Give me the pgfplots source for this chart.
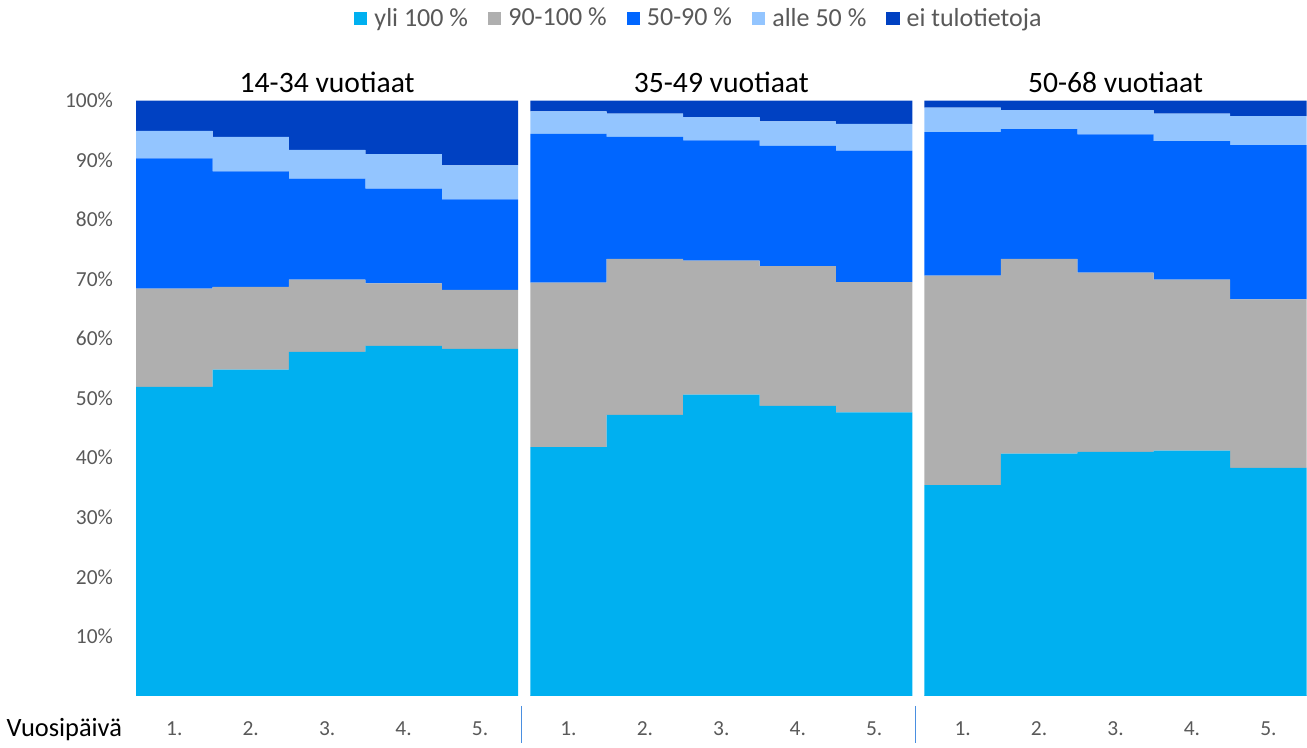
\documentclass[border=0pt]{standalone}
\usepackage{fontspec}
\setmainfont{Carlito}
\usepackage{pgfplots}
\usepackage{pgfplotstable}
\usepgfplotslibrary{groupplots}
\pgfplotsset{compat=1.18}

\definecolor{cyanA}{HTML}{00B0F0}
\definecolor{greyA}{HTML}{AFAFAF}
\definecolor{blueA}{HTML}{0066FF}
\definecolor{lightA}{HTML}{93C5FF}
\definecolor{darkA}{HTML}{0041C2}
\definecolor{txt}{HTML}{595959}
\definecolor{sepline}{HTML}{4A8FE0}

% a = yli 100, b = 90-100, c = 50-90, d = alle 50, e = ei tulotietoja
\pgfplotstableread{
x a b c d e
1 51.9 16.5 21.9 4.6 5.1
2 54.8 13.9 19.4 5.8 6.1
3 57.8 12.1 17.0 4.8 8.3
4 58.8 10.5 15.9 5.8 9.0
5 58.3  9.9 15.2 5.7 10.9
}\ageyoung
\pgfplotstableread{
x a b c d e
1 41.8 27.6 25.0 3.8 1.8
2 47.2 26.2 20.5 3.9 2.2
3 50.6 22.5 20.2 3.9 2.8
4 48.7 23.5 20.2 4.1 3.5
5 47.6 21.9 22.1 4.5 3.9
}\agemid
\pgfplotstableread{
x a b c d e
1 35.4 35.2 24.1 4.1 1.2
2 40.7 32.7 21.8 3.2 1.6
3 41.0 30.1 23.2 4.1 1.6
4 41.2 28.7 23.3 4.6 2.2
5 38.3 28.3 25.9 4.9 2.6
}\ageold

\pgfplotsset{
  sq/.style={draw=none,
    legend image code/.code={\fill[##1, draw=none] (0pt,-3.3pt) rectangle (6.6pt,3.3pt);}},
}

\begin{document}
\begin{tikzpicture}
\begin{groupplot}[
  group style={group size=3 by 1, horizontal sep=6pt, yticklabels at=edge left},
  scale only axis, width=191pt, height=297.5pt,
  ybar stacked, /pgf/bar width=1,
  xmin=0.5, xmax=5.5, ymin=0, ymax=100,
  xtick={1,...,5}, xticklabels={1.,2.,3.,4.,5.},
  ytick={10,20,...,100},
  yticklabel={\pgfmathprintnumber{\tick}\%},
  /pgf/number format/assume math mode=true,
  tick label style={font=\fontsize{10.7}{12}\selectfont, text=txt},
  xticklabel style={anchor=center, yshift=-16.5pt},
  yticklabel style={anchor=east, xshift=-8pt},
  axis x line*=bottom, axis y line*=left,
  axis line style={-},
  x axis line style={draw=gray!35},
  y axis line style={draw=none},
  tick style={draw=none},
  clip=false,
  title style={at={(0.5,1)}, anchor=center, yshift=3pt, font=\fontsize{14.8}{16}\selectfont},
]
\nextgroupplot[title={14-34 vuotiaat}]
\addplot[sq, fill=cyanA] table[x=x, y=a]{\ageyoung};
\addplot[sq, fill=greyA] table[x=x, y=b]{\ageyoung};
\addplot[sq, fill=blueA] table[x=x, y=c]{\ageyoung};
\addplot[sq, fill=lightA] table[x=x, y=d]{\ageyoung};
\addplot[sq, fill=darkA] table[x=x, y=e]{\ageyoung};
\node[anchor=east, font=\fontsize{13.2}{15}\selectfont] at ([xshift=-3.5pt, yshift=-16.8pt]rel axis cs:0,0) {Vuosipäivä};
\draw[sepline, line width=0.7pt] ([xshift=1.5pt, yshift=-5pt]rel axis cs:1,0) -- ++(0pt,-18.5pt);

\nextgroupplot[title={35-49 vuotiaat},
  legend style={at={(0.444,1)}, anchor=center, yshift=41pt, draw=none,
    legend columns=5, font=\fontsize{13}{15}\selectfont, text=txt,
    /tikz/every odd column/.append style={column sep=1.5pt},
    /tikz/every even column/.append style={column sep=8pt},
    legend cell align=left}]
\addplot[sq, fill=cyanA] table[x=x, y=a]{\agemid};
\addplot[sq, fill=greyA] table[x=x, y=b]{\agemid};
\addplot[sq, fill=blueA] table[x=x, y=c]{\agemid};
\addplot[sq, fill=lightA] table[x=x, y=d]{\agemid};
\addplot[sq, fill=darkA] table[x=x, y=e]{\agemid};
\legend{yli 100 \%, 90-100 \%, 50-90 \%, alle 50 \%, ei tulotietoja}
\draw[sepline, line width=0.7pt] ([xshift=1.5pt, yshift=-5pt]rel axis cs:1,0) -- ++(0pt,-18.5pt);

\nextgroupplot[title={50-68 vuotiaat}]
\addplot[sq, fill=cyanA] table[x=x, y=a]{\ageold};
\addplot[sq, fill=greyA] table[x=x, y=b]{\ageold};
\addplot[sq, fill=blueA] table[x=x, y=c]{\ageold};
\addplot[sq, fill=lightA] table[x=x, y=d]{\ageold};
\addplot[sq, fill=darkA] table[x=x, y=e]{\ageold};
\end{groupplot}
\end{tikzpicture}
\end{document}
